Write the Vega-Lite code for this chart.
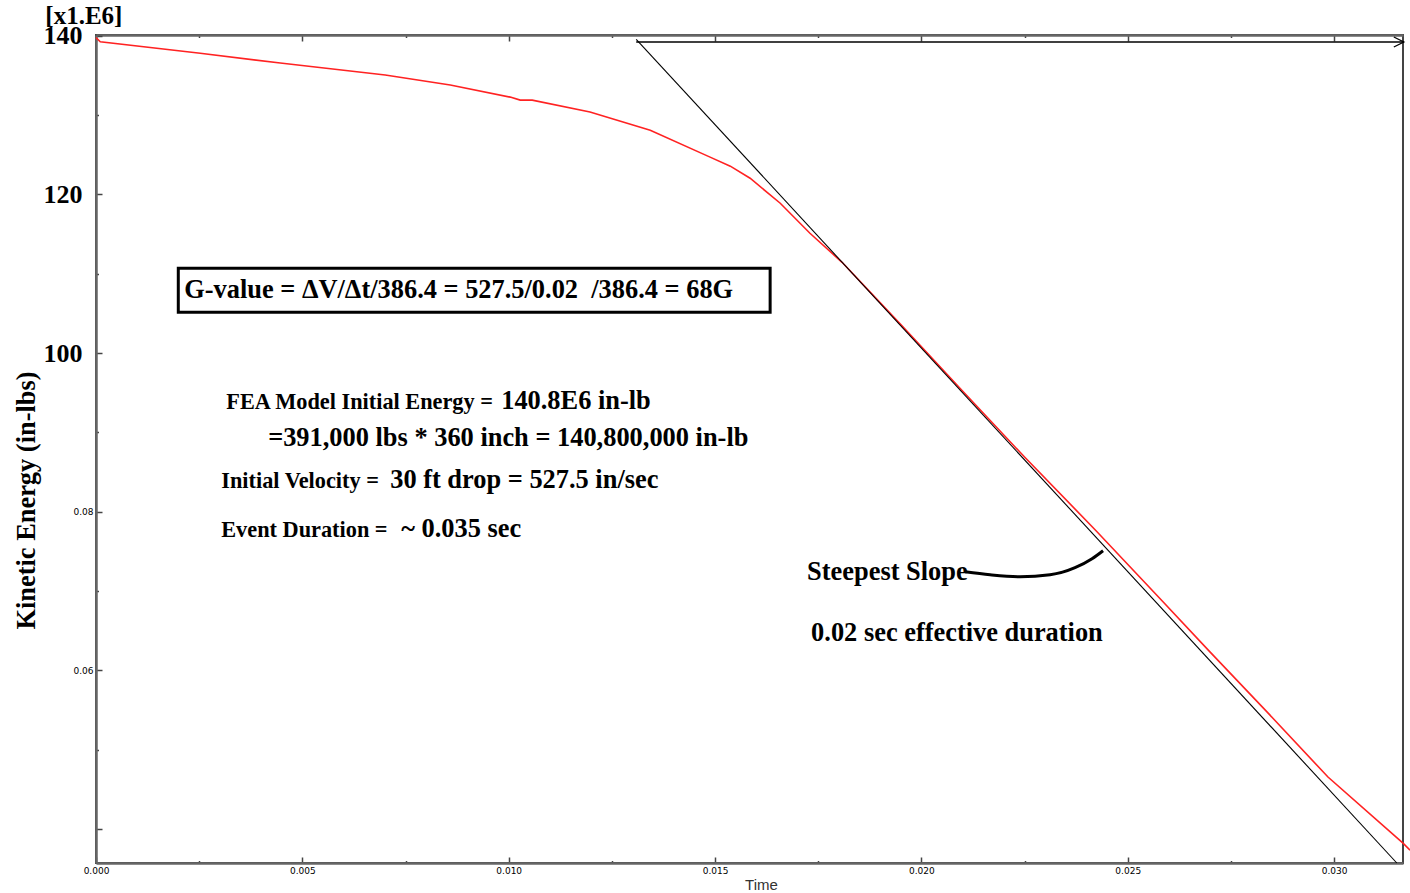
{
  "$schema": "https://vega.github.io/schema/vega-lite/v6.json",
  "width": 1307,
  "height": 828,
  "autosize": "none",
  "padding": {"left": 96, "top": 35, "right": 7, "bottom": 30},
  "background": "white",
  "view": {"stroke": "#444", "strokeWidth": 2},
  "datasets": {
    "curve": [
      {"t": 0.0, "E": 139.76},
      {"t": 0.000104, "E": 139.25},
      {"t": 0.002526, "E": 137.79},
      {"t": 0.004465, "E": 136.56},
      {"t": 0.007008, "E": 135.05},
      {"t": 0.008584, "E": 133.79},
      {"t": 0.010036, "E": 132.27},
      {"t": 0.01028, "E": 131.89},
      {"t": 0.01057, "E": 131.89},
      {"t": 0.01197, "E": 130.38},
      {"t": 0.01343, "E": 128.1},
      {"t": 0.01488, "E": 124.7},
      {"t": 0.01537, "E": 123.56},
      {"t": 0.01585, "E": 122.04},
      {"t": 0.01658, "E": 118.89},
      {"t": 0.0173, "E": 115.1},
      {"t": 0.018078, "E": 111.44},
      {"t": 0.019496, "E": 103.61},
      {"t": 0.020986, "E": 95.28},
      {"t": 0.022512, "E": 86.82},
      {"t": 0.024232, "E": 77.6},
      {"t": 0.025831, "E": 68.76},
      {"t": 0.026969, "E": 62.45},
      {"t": 0.028374, "E": 54.75},
      {"t": 0.029852, "E": 46.54},
      {"t": 0.03167, "E": 38.2},
      {"t": 0.03184, "E": 37.32}
    ],
    "tangent": [
      {"t": 0.01309, "E": 139.56},
      {"t": 0.03152, "E": 35.7}
    ],
    "hline": [
      {"t": 0.01309, "E": 139.22},
      {"t": 0.03169, "E": 139.22}
    ],
    "arrowhead": [
      {"t": 0.03169, "E": 139.22}
    ],
    "pointer": [
      {"t": 0.021059, "E": 72.42},
      {"t": 0.021664, "E": 72.04},
      {"t": 0.022391, "E": 71.79},
      {"t": 0.023118, "E": 72.04},
      {"t": 0.023723, "E": 72.93},
      {"t": 0.024135, "E": 74.06},
      {"t": 0.024402, "E": 75.07}
    ],
    "box": [
      {"t": 0.001994, "t2": 0.016335, "E": 110.68, "E2": 105.13}
    ],
    "unit": [
      {"t": -0.001228, "E": 141.5, "text": "[x1.E6]"}
    ],
    "notes": [
      {"t": 0.002139, "E": 106.89, "text": "G-value = ΔV/Δt/386.4 = 527.5/0.02\u00a0 /386.4 = 68G", "part": "large"},
      {"t": 0.003157, "E": 93.0, "text": "FEA Model Initial Energy =", "part": "small"},
      {"t": 0.009818, "E": 93.0, "text": "140.8E6 in-lb", "part": "large"},
      {"t": 0.004171, "E": 88.33, "text": "=391,000 lbs * 360 inch = 140,800,000 in-lb", "part": "large"},
      {"t": 0.003035, "E": 83.03, "text": "Initial Velocity =", "part": "small"},
      {"t": 0.007129, "E": 83.03, "text": "30 ft drop = 527.5 in/sec", "part": "large"},
      {"t": 0.003035, "E": 76.84, "text": "Event Duration =", "part": "small"},
      {"t": 0.007396, "E": 76.84, "text": "~ 0.035 sec", "part": "large"},
      {"t": 0.017231, "E": 71.41, "text": "Steepest Slope", "part": "large"},
      {"t": 0.017328, "E": 63.71, "text": "0.02 sec effective duration", "part": "large"}
    ]
  },
  "resolve": {"axis": {"x": "independent", "y": "independent"}},
  "layer": [
    {
      "data": {"name": "curve"},
      "mark": {"type": "line", "color": "#f22", "strokeWidth": 1.6, "clip": false},
      "encoding": {
        "x": {
          "field": "t", "type": "quantitative",
          "scale": {"domain": [0, 0.03167], "nice": false, "zero": false},
          "axis": {
            "orient": "bottom",
            "values": [0, 0.0025, 0.005, 0.0075, 0.01, 0.0125, 0.015, 0.0175, 0.02, 0.0225, 0.025, 0.0275, 0.03],
            "labelExpr": "abs(datum.value*200 - round(datum.value*200)) < 0.01 ? format(datum.value, '.3f') : ''",
            "tickSize": {"condition": {"test": "abs(datum.value*200 - round(datum.value*200)) < 0.01", "value": -6}, "value": -2.5},
            "labelPadding": 9,
            "labelFont": "DejaVu Sans", "labelFontSize": 9, "labelColor": "#000",
            "labelFlush": false, "labelOverlap": false,
            "domainColor": "#666", "domainWidth": 2.5,
            "tickColor": "#444", "tickWidth": 1.5,
            "grid": false,
            "title": "Time", "titleFont": "Liberation Sans", "titleFontSize": 15, "titleFontWeight": "normal", "titleColor": "#333",
            "titleX": 665, "titleY": 21, "titleBaseline": "middle", "titleAlign": "center"
          }
        },
        "y": {
          "field": "E", "type": "quantitative",
          "scale": {"domain": [35.7, 140.1], "nice": false, "zero": false},
          "axis": {
            "orient": "left",
            "values": [40, 50, 60, 70, 80, 90, 100, 110, 120, 130, 140],
            "labelExpr": "datum.value == 140 ? '140' : datum.value == 120 ? '120' : datum.value == 100 ? '100' : datum.value == 80 ? '0.08' : datum.value == 60 ? '0.06' : ''",
            "tickSize": {"condition": {"test": "datum.value % 20 == 0", "value": -6}, "value": -2.5},
            "labelPadding": {"condition": {"test": "datum.value >= 100", "value": 20}, "value": 9},
            "labelFont": {"condition": {"test": "datum.value >= 100", "value": "Liberation Serif"}, "value": "DejaVu Sans"},
            "labelFontSize": {"condition": {"test": "datum.value >= 100", "value": 26}, "value": 9},
            "labelFontWeight": {"condition": {"test": "datum.value >= 100", "value": "bold"}, "value": "normal"},
            "labelColor": "#000",
            "labelBaseline": "middle",
            "labelFlush": false, "labelOverlap": false,
            "domainColor": "#666", "domainWidth": 2.5,
            "tickColor": "#444", "tickWidth": 1.5,
            "grid": false,
            "title": "Kinetic Energy (in-lbs)", "titleFont": "Liberation Serif", "titleFontSize": 26.4, "titleFontWeight": "bold", "titleColor": "#000",
            "titleAngle": -90, "titleX": -70, "titleY": 465, "titleBaseline": "middle", "titleAlign": "center"
          }
        }
      }
    },
    {
      "data": {"name": "tangent"},
      "mark": {"type": "line", "color": "#000", "strokeWidth": 1.1, "clip": false},
      "encoding": {
        "x": {
          "field": "t", "type": "quantitative",
          "axis": {
            "orient": "top",
            "values": [0, 0.0025, 0.005, 0.0075, 0.01, 0.0125, 0.015, 0.0175, 0.02, 0.0225, 0.025, 0.0275, 0.03],
            "labels": false,
            "tickSize": {"condition": {"test": "abs(datum.value*200 - round(datum.value*200)) < 0.01", "value": -6}, "value": -2.5},
            "domainColor": "#666", "domainWidth": 2.5,
            "tickColor": "#444", "tickWidth": 1.5,
            "grid": false, "title": null
          }
        },
        "y": {"field": "E", "type": "quantitative", "axis": null}
      }
    },
    {
      "data": {"name": "hline"},
      "mark": {"type": "line", "color": "#000", "strokeWidth": 1.5, "clip": false},
      "encoding": {
        "x": {"field": "t", "type": "quantitative", "axis": null},
        "y": {"field": "E", "type": "quantitative", "axis": null}
      }
    },
    {
      "data": {"name": "arrowhead"},
      "mark": {"type": "point", "shape": "M-1,-0.5L0,0L-1,0.5", "filled": false, "stroke": "#000", "strokeWidth": 1.3, "size": 400, "opacity": 1, "clip": false},
      "encoding": {
        "x": {"field": "t", "type": "quantitative", "axis": null},
        "y": {"field": "E", "type": "quantitative", "axis": null}
      }
    },
    {
      "data": {"name": "pointer"},
      "mark": {"type": "line", "color": "#000", "strokeWidth": 3, "interpolate": "monotone"},
      "encoding": {
        "x": {"field": "t", "type": "quantitative", "axis": null},
        "y": {"field": "E", "type": "quantitative", "axis": null}
      }
    },
    {
      "data": {"name": "box"},
      "mark": {"type": "rect", "filled": false, "stroke": "#000", "strokeWidth": 3},
      "encoding": {
        "x": {"field": "t", "type": "quantitative", "axis": null},
        "x2": {"field": "t2"},
        "y": {"field": "E", "type": "quantitative", "axis": null},
        "y2": {"field": "E2"}
      }
    },
    {
      "data": {"name": "unit"},
      "mark": {"type": "text", "align": "left", "baseline": "alphabetic", "font": "Liberation Serif", "fontWeight": "bold", "fontSize": 25, "color": "#000", "clip": false},
      "encoding": {
        "x": {"field": "t", "type": "quantitative", "axis": null},
        "y": {"field": "E", "type": "quantitative", "axis": null},
        "text": {"field": "text"}
      }
    },
    {
      "data": {"name": "notes"},
      "mark": {"type": "text", "align": "left", "baseline": "alphabetic", "font": "Liberation Serif", "fontWeight": "bold", "color": "#000"},
      "encoding": {
        "x": {"field": "t", "type": "quantitative", "axis": null},
        "y": {"field": "E", "type": "quantitative", "axis": null},
        "text": {"field": "text"},
        "size": {"field": "part", "type": "nominal", "scale": {"domain": ["small", "large"], "range": [22.3, 26.4]}, "legend": null}
      }
    }
  ]
}
